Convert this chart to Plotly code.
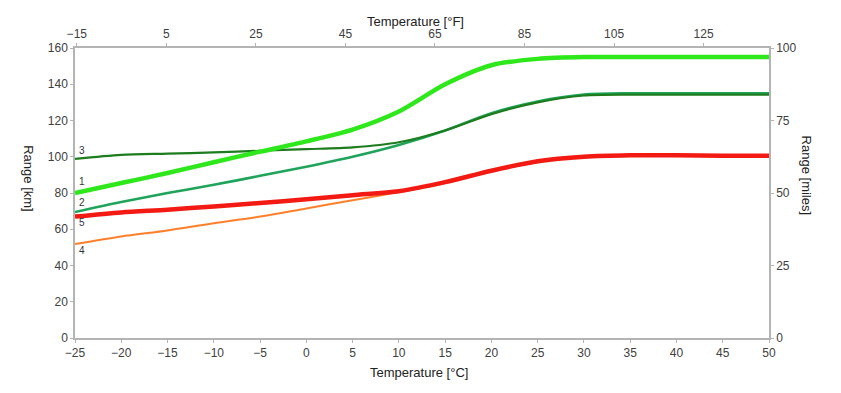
import plotly.graph_objects as go

temp_c = [-25, -20, -15, -10, -5, 0, 5, 10, 15, 20, 25, 30, 35, 40, 45, 50]
range_1 = [80, 85.5, 91, 97, 102.8, 108.5, 115, 125, 140, 150.5, 154, 155, 155, 155, 155, 155]
range_2 = [69.5, 75, 80, 84.5, 89.5, 94.5, 100, 106.5, 114.5, 124, 130.5, 134.3, 135, 135, 135, 135]
range_3 = [98.8, 101, 101.7, 102.4, 103.3, 104.2, 105.2, 108, 114.5, 123.5, 130, 133.8, 134.3, 134.3, 134.3, 134.3]
range_4 = [51.8, 56, 59.3, 63.3, 67, 71.5, 76, 80.5, 85.5, 92, 97, 100, 100.5, 100.5, 100.3, 100.3]
range_5 = [67, 69.3, 70.8, 72.6, 74.5, 76.5, 78.8, 81, 86, 92.3, 97.5, 100, 100.8, 100.8, 100.6, 100.6]

series_names = ["1", "2", "3", "4", "5"]
label_y = [86.5, 75, 103.7, 48.3, 64]

fahrenheit_ticks = [-15, 5, 25, 45, 65, 85, 105, 125]
miles_ticks = [0, 25, 50, 75, 100]

fig = go.Figure()
styles = [
    (range_4, "#ff7f2a", 2.0),
    (range_5, "#f21a12", 4.5),
    (range_2, "#1fa45a", 2.6),
    (range_3, "#1d7c1d", 2.2),
    (range_1, "#2ee81c", 4.5),
]
for ys, col, w in styles:
    fig.add_trace(go.Scatter(x=temp_c, y=ys, mode="lines",
                             line=dict(color=col, width=w, shape="spline", smoothing=0.8),
                             showlegend=False, hoverinfo="skip"))

# empty trace so that the secondary (°F / miles) axes get drawn
fig.add_trace(go.Scatter(x=[], y=[], xaxis="x2", yaxis="y2", showlegend=False, hoverinfo="skip"))

for name, ly in zip(series_names, label_y):
    fig.add_annotation(x=-24.2, y=ly, xref="x", yref="y", text=name, showarrow=False,
                       font=dict(size=10, color="#333333", family="Liberation Sans, Arial"))

axis_common = dict(showline=True, linecolor="#b4b4b4", linewidth=1.5, showgrid=False,
                   zeroline=False, ticks="outside", ticklen=3, tickcolor="#b4b4b4",
                   tickfont=dict(size=12, color="#404040", family="Liberation Sans, Arial"))

fig.update_layout(
    width=841, height=393,
    margin=dict(l=67, r=80, t=40, b=63),
    plot_bgcolor="white", paper_bgcolor="white",
    xaxis=dict(range=[-25, 50], tickvals=list(range(-25, 51, 5)), **axis_common),
    yaxis=dict(range=[0, 160], tickvals=list(range(0, 161, 20)), **axis_common),
    xaxis2=dict(range=[-15.4, 139.6], tickvals=fahrenheit_ticks,
                overlaying="x", side="top", anchor="y", **axis_common),
    yaxis2=dict(range=[0, 100], tickvals=miles_ticks,
                overlaying="y", side="right", anchor="x", **axis_common),
)

title_font = dict(size=13, color="#222222", family="Liberation Sans, Arial")
fig.add_annotation(x=0.495, y=-0.086, xref="paper", yref="paper", text="Temperature [°C]",
                   showarrow=False, font=title_font, yanchor="top")
fig.add_annotation(x=0.49, y=1.06, xref="paper", yref="paper", text="Temperature [°F]",
                   showarrow=False, font=title_font, yanchor="bottom")
fig.add_annotation(x=-0.081, y=0.55, xref="paper", yref="paper", text="Range [km]",
                   showarrow=False, font=title_font, textangle=90)
fig.add_annotation(x=1.067, y=0.56, xref="paper", yref="paper", text="Range [miles]",
                   showarrow=False, font=title_font, textangle=90)

fig.write_html("out.html")
